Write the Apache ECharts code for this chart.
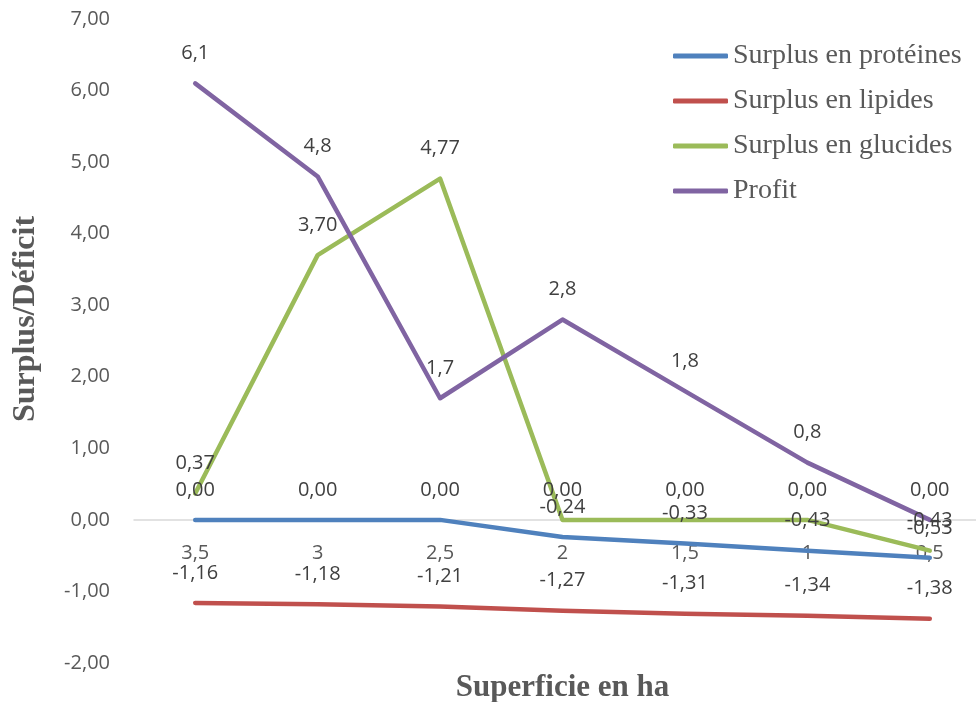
<!DOCTYPE html>
<html>
<head>
<meta charset="utf-8">
<script src="https://cdn.jsdelivr.net/npm/echarts@6/dist/echarts.min.js"></script>
<style>html,body{margin:0;padding:0;background:#fff}#c{width:976px;height:702px}</style>
</head>
<body>
<div id="c"></div>
<script>
var categories = ['3,5', '3', '2,5', '2', '1,5', '1', '0,5'];
var proteines = [0, 0, 0, -0.24, -0.33, -0.43, -0.53];
var lipides = [-1.16, -1.18, -1.21, -1.27, -1.31, -1.34, -1.38];
var glucides = [0.37, 3.70, 4.77, 0, 0, 0, -0.43];
var profit = [6.1, 4.8, 1.7, 2.8, 1.8, 0.8, 0];
var seriesNames = ['Surplus en protéines', 'Surplus en lipides', 'Surplus en glucides', 'Profit'];
var yTicks = { min: -2, max: 7, interval: 1 };

var colors = ['#4F81BD', '#C0504D', '#9BBB59', '#8064A2'];
var sansFont = '"Open Sans", "Liberation Sans", sans-serif';
var serifFont = '"Liberation Serif", "DejaVu Serif", serif';

var GRID_TOP = 19, GRID_BOTTOM = 39, H = 702;
var plotH = H - GRID_TOP - GRID_BOTTOM;
var zeroOffset = -plotH * (0 - yTicks.min) / (yTicks.max - yTicks.min);

function fmt2(v) { return v.toFixed(2).replace('.', ','); }
function fmtProfit(v) { return v === 0 ? '0,00' : String(v).replace('.', ','); }

function mkSeries(name, data, color, formatter) {
  return {
    name: name, type: 'line', data: data,
    symbol: 'circle', symbolSize: 2, showSymbol: true,
    lineStyle: { color: color, width: 4.5, cap: 'round', join: 'round' },
    itemStyle: { color: color },
    label: {
      show: true, position: 'top', distance: 19,
      color: '#404040', fontFamily: sansFont, fontSize: 20,
      formatter: function (p) { return formatter(p.value); }
    },
    labelLayout: { hideOverlap: false },
    emphasis: { disabled: true },
    animation: false
  };
}

var chart = echarts.init(document.getElementById('c'), null, { renderer: 'canvas' });
chart.setOption({
  animation: false,
  grid: { left: 134, right: -15, top: GRID_TOP, bottom: GRID_BOTTOM, containLabel: false, outerBoundsMode: 'none' },
  legend: {
    orient: 'vertical', left: 673, top: 42, padding: 0,
    itemWidth: 55, itemHeight: 5, itemGap: 17,
    icon: 'roundRect',
    data: seriesNames,
    textStyle: { fontFamily: serifFont, fontSize: 28, color: '#595959', lineHeight: 28 }
  },
  xAxis: {
    type: 'category', data: categories, boundaryGap: true,
    position: 'bottom', offset: zeroOffset,
    axisLine: { onZero: false, lineStyle: { color: '#D9D9D9', width: 1.5 } },
    axisTick: { show: false },
    axisLabel: { margin: 23, color: '#595959', fontFamily: sansFont, fontSize: 20 },
    name: 'Superficie en ha', nameLocation: 'middle', nameGap: 153,
    nameTextStyle: { fontFamily: serifFont, fontWeight: 'bold', fontSize: 31, color: '#595959' }
  },
  yAxis: {
    type: 'value', min: yTicks.min, max: yTicks.max, interval: yTicks.interval,
    axisLine: { show: false }, axisTick: { show: false }, splitLine: { show: false },
    axisLabel: { margin: 24, color: '#595959', fontFamily: sansFont, fontSize: 20, formatter: fmt2 },
    name: 'Surplus/Déficit', nameLocation: 'middle', nameGap: 92,
    nameTextStyle: { fontFamily: serifFont, fontWeight: 'bold', fontSize: 32, color: '#595959', padding: [0, 0, 0, 44] }
  },
  series: [
    mkSeries(seriesNames[0], proteines, colors[0], fmt2),
    mkSeries(seriesNames[1], lipides, colors[1], fmt2),
    mkSeries(seriesNames[2], glucides, colors[2], fmt2),
    mkSeries(seriesNames[3], profit, colors[3], fmtProfit)
  ]
});
</script>
</body>
</html>
